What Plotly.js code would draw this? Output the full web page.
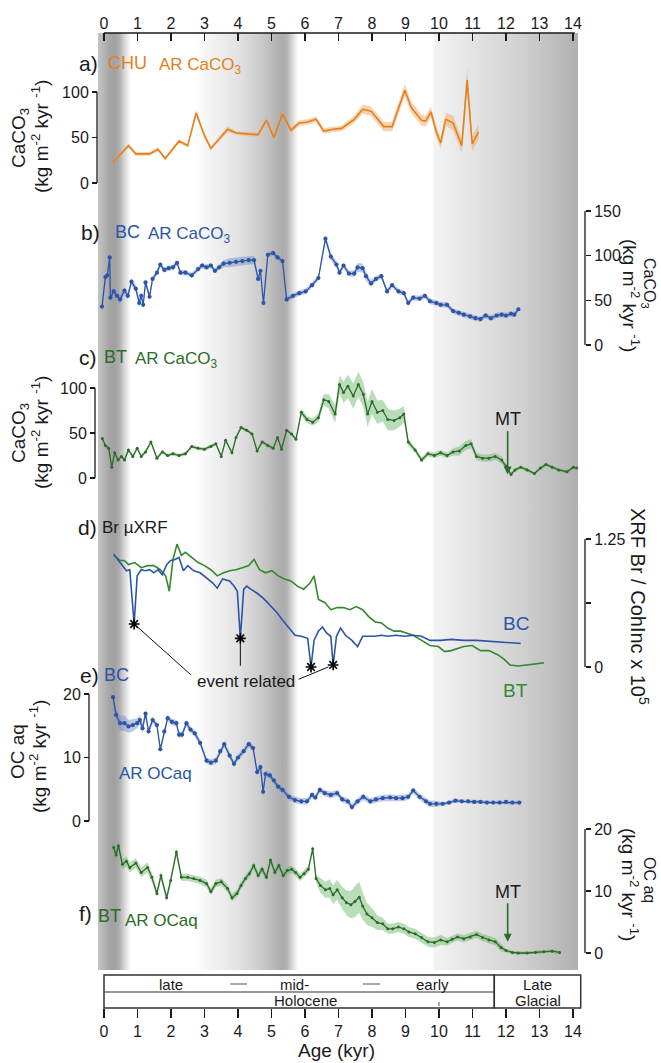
<!DOCTYPE html>
<html><head><meta charset="utf-8">
<script src="https://cdn.plot.ly/plotly-3.0.1.min.js"></script>
<style>html,body{margin:0;padding:0;background:#fff}#chart{width:661px;height:1063px}</style>
</head><body><div id="chart"></div>
<script>
// ---------------- DATA ----------------
const ageTicks = [0,1,2,3,4,5,6,7,8,9,10,11,12,13,14];

// a) CHU AR CaCO3
const chuAge = [0.25,0.55,0.73,0.95,1.36,1.61,1.83,2.24,2.50,2.75,3.00,3.19,3.69,3.95,4.19,4.45,4.60,4.85,5.07,5.33,5.58,5.83,6.08,6.33,6.56,6.84,7.09,7.47,7.72,7.97,8.35,8.60,8.98,9.17,9.48,9.60,9.76,9.92,10.05,10.20,10.42,10.68,10.84,10.99,11.18];
const chuCaCO3 = [22,34,41,32,32,37,27,46,41,77,52,38,59,55,54,53,53,69,50,76,58,66,67,70,57,59,60,70,81,79,62,62,102,83,69,68,78,56,44,70,66,41,113,43,56];
const chuErr = [2,2,2,2,2,2,2,2,2,3,3,2,3,2,2,2,2,3,3,3,3,3,3,3,3,3,3,4,5,5,5,5,7,6,6,6,6,6,6,7,8,8,14,8,8];

// b) BC AR CaCO3
const bcAge = [-0.06,0.04,0.10,0.17,0.19,0.29,0.39,0.48,0.61,0.71,0.82,0.95,1.05,1.11,1.17,1.24,1.36,1.45,1.58,1.68,1.80,1.93,2.06,2.18,2.28,2.43,2.62,2.81,2.93,3.06,3.19,3.31,3.44,3.57,3.75,3.94,4.13,4.32,4.48,4.60,4.67,4.76,4.89,5.05,5.18,5.33,5.45,5.64,5.83,6.02,6.21,6.40,6.61,6.77,6.94,7.03,7.15,7.31,7.47,7.57,7.72,7.82,7.97,8.12,8.28,8.45,8.60,8.79,8.95,9.08,9.23,9.42,9.58,9.73,9.92,10.05,10.24,10.42,10.59,10.74,10.93,11.09,11.24,11.39,11.55,11.72,11.87,12.00,12.15,12.25,12.37];
const bcCaCO3 = [43,76,78,98,53,60,55,51,61,55,71,63,47,55,45,70,54,74,81,90,84,86,87,92,81,81,78,85,89,87,89,83,87,91,92,93,94,95,95,74,83,47,101,103,98,94,51,55,58,60,67,75,119,99,90,81,89,80,80,87,86,77,69,74,77,60,67,60,58,47,53,52,55,49,47,45,45,38,36,34,32,30,29,33,30,33,34,33,35,34,40];
const bcErr = [3,3,3,3,4,4,4,5,4,4,4,4,5,4,5,4,4,3,3,3,3,3,3,3,3,3,3,3,3,3,3,3,3,4,5,5,5,5,5,3,3,3,3,3,3,3,3,3,3,3,3,3,4,4,4,3,3,3,4,5,5,5,4,3,3,3,3,3,3,3,3,3,3,3,3,3,3,3,3,3,3,3,3,3,3,3,3,3,3,3,3];

// c) BT AR CaCO3
const btAge = [-0.05,0.04,0.14,0.23,0.32,0.42,0.52,0.61,0.73,0.86,0.99,1.11,1.24,1.40,1.58,1.74,1.90,2.06,2.24,2.43,2.62,2.81,3.00,3.19,3.34,3.50,3.63,3.82,3.94,4.09,4.26,4.42,4.57,4.72,4.89,5.05,5.18,5.30,5.45,5.60,5.73,5.89,6.06,6.23,6.40,6.56,6.71,6.90,7.03,7.15,7.28,7.44,7.59,7.74,7.87,8.00,8.16,8.32,8.47,8.66,8.83,8.95,9.08,9.29,9.48,9.67,9.86,10.05,10.24,10.42,10.61,10.80,10.96,11.12,11.30,11.49,11.68,11.87,12.00,12.15,12.27,12.44,12.63,12.85,13.03,13.19,13.38,13.57,13.82,14.01,14.11];
const btCaCO3 = [44,36,33,12,28,20,24,20,31,24,33,24,29,40,22,29,25,27,25,27,35,33,32,35,38,24,42,28,45,56,53,49,30,40,36,33,45,32,53,49,43,73,65,62,67,87,85,71,104,95,102,91,104,93,71,85,73,75,65,64,67,71,40,31,20,27,25,28,25,29,30,36,38,24,22,22,24,20,13,4,9,12,9,5,11,15,12,9,7,12,11];
const btErr = [2,2,2,2,2,2,2,2,2,2,2,2,2,2,2,2,2,2,2,2,2,2,2,2,2,2,2,2,2,2,2,2,2,2,2,2,2,2,2,2,2,4,4,4,5,6,8,10,10,12,13,14,14,14,14,14,13,12,12,11,10,9,4,3,3,3,3,3,3,4,5,5,5,4,4,4,4,4,3,2,2,2,2,2,2,2,2,2,2,2,2];

// d) Br uXRF (XRF Br / CohInc x 10^5)
const xrfBcAge = [0.29,0.48,0.67,0.77,0.90,0.99,1.11,1.24,1.36,1.49,1.61,1.74,1.87,1.99,2.12,2.24,2.37,2.50,2.68,2.87,3.06,3.25,3.38,3.54,3.75,3.88,3.98,4.07,4.17,4.26,4.38,4.57,4.76,4.95,5.14,5.33,5.52,5.70,5.89,6.08,6.18,6.27,6.40,6.52,6.65,6.77,6.84,6.94,7.06,7.21,7.40,7.57,7.72,7.91,8.10,8.28,8.47,8.72,8.98,9.23,9.48,9.73,10.05,10.36,10.74,11.12,11.49,12.00,12.44];
const xrfBcBr = [1.10,1.02,0.94,0.95,0.42,0.89,0.95,0.94,0.95,0.92,0.95,0.90,1.00,1.04,1.05,1.07,0.94,0.99,0.94,0.92,0.87,0.82,0.77,0.86,0.84,0.79,0.74,0.28,0.76,0.79,0.76,0.72,0.67,0.61,0.54,0.46,0.38,0.31,0.30,0.28,0.00,0.26,0.35,0.39,0.33,0.30,0.02,0.30,0.38,0.31,0.26,0.20,0.30,0.30,0.30,0.31,0.30,0.31,0.30,0.31,0.30,0.26,0.26,0.27,0.26,0.26,0.25,0.24,0.23];
const xrfBtAge = [0.29,0.48,0.61,0.73,0.92,1.11,1.30,1.49,1.68,1.84,1.95,2.06,2.18,2.31,2.43,2.62,2.81,3.00,3.19,3.38,3.57,3.75,3.94,4.13,4.32,4.48,4.64,4.82,5.01,5.20,5.39,5.58,5.77,5.96,6.15,6.27,6.40,6.59,6.77,6.96,7.15,7.34,7.53,7.72,7.91,8.10,8.28,8.47,8.66,8.85,9.04,9.23,9.48,9.73,9.98,10.17,10.36,10.55,10.74,10.99,11.24,11.49,11.75,11.93,12.12,12.37,12.63,12.88,13.13];
const xrfBtBr = [1.09,1.04,1.04,1.00,1.02,0.97,0.99,0.99,0.95,0.89,0.74,1.05,1.20,1.09,1.12,1.07,1.02,0.99,0.95,0.89,0.92,0.94,0.95,0.97,0.99,1.05,0.95,0.92,0.94,0.89,0.86,0.84,0.79,0.76,0.82,0.89,0.66,0.63,0.56,0.58,0.58,0.56,0.59,0.56,0.49,0.44,0.43,0.38,0.35,0.35,0.33,0.31,0.26,0.21,0.20,0.15,0.16,0.18,0.20,0.21,0.16,0.16,0.12,0.08,0.02,0.01,0.02,0.03,0.04];
const eventAge = [0.90,4.07,6.18,6.84];
const eventBr = [0.42,0.28,0.00,0.02];

// e) BC AR OCaq
const bcOcAge = [0.27,0.36,0.48,0.61,0.73,0.86,0.99,1.07,1.15,1.24,1.33,1.45,1.58,1.68,1.80,1.90,2.03,2.16,2.24,2.33,2.46,2.58,2.71,2.87,3.06,3.19,3.34,3.47,3.59,3.75,3.88,4.00,4.17,4.32,4.45,4.57,4.67,4.75,4.82,4.95,5.07,5.20,5.33,5.52,5.70,5.89,6.06,6.21,6.31,6.44,6.59,6.77,6.96,7.11,7.28,7.40,7.57,7.74,7.95,8.12,8.32,8.54,8.72,8.91,9.08,9.23,9.42,9.61,9.73,9.92,10.11,10.30,10.49,10.68,10.87,11.05,11.24,11.43,11.62,11.81,12.00,12.19,12.40];
const bcOc = [19.5,16.7,15.4,15.4,14.9,15.1,15.4,15.9,14.6,16.9,14.1,15.9,15.1,11.3,14.1,16.2,15.6,15.4,13.6,13.6,15.4,14.4,13.8,12.3,9.5,9.2,9.5,11.0,12.1,10.3,9.0,10.0,11.0,12.1,11.5,7.7,8.5,4.6,7.4,7.2,6.4,5.4,4.9,3.8,3.3,3.1,3.1,4.1,3.7,4.9,4.4,4.1,4.4,3.4,3.1,2.2,3.1,3.8,3.1,3.4,3.6,3.7,3.6,3.6,3.8,4.8,3.8,3.1,2.7,2.7,2.7,2.9,3.2,3.1,3.1,3.0,3.0,2.9,2.9,2.9,3.0,2.9,2.9];
const bcOcErr = [0.5,0.8,1.2,1.2,1.0,1.0,0.8,0.8,0.8,0.6,0.5,0.5,0.5,0.5,0.5,0.5,0.5,0.5,0.5,0.5,0.5,0.5,0.5,0.5,0.5,0.5,0.5,0.5,0.5,0.5,0.5,0.5,0.5,0.5,0.5,0.5,0.6,0.6,0.6,0.5,0.5,0.5,0.5,0.5,0.5,0.5,0.5,0.5,0.5,0.5,0.5,0.5,0.5,0.5,0.5,0.5,0.5,0.5,0.5,0.5,0.5,0.5,0.5,0.5,0.5,0.5,0.5,0.5,0.5,0.5,0.3,0.3,0.3,0.3,0.3,0.3,0.3,0.3,0.3,0.3,0.3,0.3,0.3];

// f) BT AR OCaq
const btOcAge = [0.29,0.36,0.43,0.55,0.67,0.77,0.95,1.11,1.30,1.43,1.58,1.70,1.87,1.99,2.16,2.31,2.50,2.68,2.87,3.06,3.19,3.34,3.50,3.69,3.82,3.97,4.09,4.22,4.34,4.47,4.60,4.72,4.85,4.97,5.10,5.22,5.35,5.47,5.60,5.72,5.85,5.97,6.10,6.23,6.33,6.46,6.61,6.74,6.84,6.96,7.11,7.24,7.37,7.49,7.62,7.72,7.85,8.00,8.16,8.32,8.47,8.62,8.79,8.95,9.10,9.29,9.48,9.67,9.86,10.05,10.24,10.39,10.55,10.74,10.93,11.12,11.30,11.49,11.68,11.85,12.00,12.19,12.37,12.63,12.88,13.13,13.38,13.60];
const btOc = [17.0,15.8,17.3,14.3,14.8,13.8,14.5,13.0,13.8,12.2,9.6,12.5,8.9,11.7,16.3,12.2,12.2,12.0,11.7,11.2,9.9,11.2,11.5,10.4,8.9,9.6,10.9,12.0,12.8,14.1,12.5,13.5,12.2,15.0,13.0,14.1,12.5,13.3,13.5,13.0,12.2,12.8,13.5,16.8,12.0,10.9,10.2,10.4,9.4,10.2,8.9,8.1,7.8,8.3,9.0,7.6,6.3,5.7,4.9,4.7,3.9,3.9,4.2,3.9,3.4,3.1,2.5,1.8,1.7,2.1,1.8,2.2,2.6,2.3,2.6,3.0,2.5,2.1,1.8,0.9,0.4,0.1,0.0,0.0,0.1,0.2,0.3,0.1];
const btOcErr = [0.8,0.8,0.8,0.8,0.8,0.8,0.8,0.8,0.8,0.8,0.6,0.6,0.6,0.6,0.6,0.6,0.6,0.6,0.6,0.6,0.6,0.6,0.6,0.6,0.6,0.6,0.6,0.6,0.6,0.6,0.6,0.6,0.6,0.6,0.6,0.6,0.6,0.6,0.6,0.6,0.6,0.6,0.6,0.6,0.6,1.2,1.3,1.5,1.5,1.6,1.8,2.0,2.2,2.5,2.5,2.2,1.8,1.5,1.2,1.0,0.8,0.8,0.8,0.8,0.8,0.8,0.8,0.8,0.8,0.8,0.6,0.6,0.6,0.6,0.6,0.6,0.6,0.6,0.6,0.6,0.3,0.3,0.3,0.3,0.3,0.3,0.3,0.3];

// Melt-water transition marker age
const mtAge = 12.05;

// Background shading profile (age -> gray level)
const shadeAge  = [-0.18,0.00,0.15,0.30,0.45,0.60,0.80,2.70,3.30,4.00,4.60,5.00,5.30,5.45,5.60,5.80,9.80,9.86,11.00,12.50,14.15];
const shadeGray = [196,180,166,160,172,212,255,255,241,226,206,188,172,176,210,255,255,243,228,208,176];

// Stratigraphic box labels
const periodTop = ['late','mid-','early'];
const periodTopAge = [2.0,5.7,9.8];
const holoceneEnd = 11.65;

// ---------------- LAYOUT GEOMETRY ----------------
const W=661, H=1063, L=88, R=585, T=33, B=1008;
const PW=R-L, PH=B-T;
const X0PX=104, KPX=33.5;
const fx = px => (px-L)/PW;
const fy = py => (B-py)/PH;
const xr = [(L-X0PX)/KPX, (R-X0PX)/KPX];
const agePx = a => X0PX + a*KPX;
function dom(v0,p0,v1,p1,rmin,rmax){
  const s=(p0-p1)/(v1-v0);
  const px=v=>p0-(v-v0)*s;
  return [fy(px(rmin)), fy(px(rmax))];
}
const FONT = 'Liberation Sans, Arial, sans-serif';
const ORANGE='#e5801c', BLUE='#2c55a8', DGREEN='#2e6b2b', LGREEN='#34892f', INK='#1a1a1a';

const P = {
  a:{v0:0,p0:183,v1:100,p1:92, r:[-15,140], ax:97},
  b:{v0:0,p0:345,v1:150,p1:211, r:[-5,160], ax:585},
  c:{v0:0,p0:478,v1:100,p1:388, r:[-5,125], ax:95},
  d:{v0:0,p0:667,v1:1.25,p1:539, r:[-0.15,1.35], ax:585},
  e:{v0:0,p0:821,v1:20,p1:694, r:[-1,22], ax:89},
  f:{v0:0,p0:953,v1:20,p1:829, r:[-1,21], ax:585}
};

function yax(k, side, tickvals, ticktext){
  const p=P[k];
  const o={domain:dom(p.v0,p.p0,p.v1,p.p1,p.r[0],p.r[1]), range:p.r, anchor:'free',
    position: fx(p.ax), side:side, tickvals:tickvals, ticks:'outside', ticklen:5,
    tickwidth:1.2, tickcolor:INK, showgrid:false, zeroline:false, showline:false,
    tickfont:{size:16,color:INK,family:FONT}, fixedrange:true};
  if(ticktext) o.ticktext=ticktext;
  return o;
}

// ---------------- TRACES ----------------
const traces=[];
const s0=shadeAge[0], s1=shadeAge[shadeAge.length-1];
traces.push({x:[s0,s1,s1,s0,s0], y:[fy(970),fy(970),1,1,fy(970)], xaxis:'x', yaxis:'y',
  mode:'lines', line:{width:0}, fill:'toself', hoverinfo:'skip',
  fillgradient:{type:'horizontal', colorscale: shadeAge.map((a,i)=>[(a-s0)/(s1-s0), `rgb(${shadeGray[i]},${shadeGray[i]},${shadeGray[i]})`])}});
traces.push({x:[0], y:[0.5], xaxis:'x2', yaxis:'y', mode:'markers', marker:{opacity:0}, hoverinfo:'skip'});

function band(x,y,e,yaxis,color){
  const up=y.map((v,i)=>v+e[i]), lo=y.map((v,i)=>v-e[i]);
  return {x:x.concat(x.slice().reverse()), y:up.concat(lo.slice().reverse()), xaxis:'x', yaxis:yaxis,
    mode:'lines', line:{width:0}, fill:'toself', fillcolor:color, hoverinfo:'skip'};
}
function line(x,y,yaxis,color,w,ms){
  return {x:x, y:y, xaxis:'x', yaxis:yaxis, mode: ms? 'lines+markers':'lines',
    line:{color:color,width:w}, marker:{size:ms||0,color:color}, hoverinfo:'skip'};
}
traces.push(band(chuAge,chuCaCO3,chuErr,'y2','rgba(240,168,100,0.5)'));
traces.push(line(chuAge,chuCaCO3,'y2',ORANGE,1.6));
traces.push(band(bcAge,bcCaCO3,bcErr,'y3','rgba(110,135,200,0.45)'));
traces.push(line(bcAge,bcCaCO3,'y3',BLUE,1.3,4.2));
traces.push(band(btAge,btCaCO3,btErr,'y4','rgba(100,180,100,0.45)'));
traces.push(line(btAge,btCaCO3,'y4',DGREEN,1.3,3));
traces.push(line(xrfBtAge,xrfBtBr,'y5',LGREEN,1.6));
traces.push(line(xrfBcAge,xrfBcBr,'y5',BLUE,1.6));
traces.push({x:eventAge, y:eventBr, xaxis:'x', yaxis:'y5', mode:'markers',
  marker:{symbol:'asterisk-open', size:9, color:'#000', line:{width:1.6,color:'#000'}}, hoverinfo:'skip', cliponaxis:false});
traces.push(band(bcOcAge,bcOc,bcOcErr,'y6','rgba(110,135,200,0.45)'));
traces.push(line(bcOcAge,bcOc,'y6',BLUE,1.3,4.2));
traces.push(band(btOcAge,btOc,btOcErr,'y7','rgba(100,180,100,0.45)'));
traces.push(line(btOcAge,btOc,'y7',DGREEN,1.3,3));

// ---------------- SHAPES ----------------
const shapes=[];
const axLine=(k,yref,y0,y1)=>({type:'line',xref:'paper',yref:yref,x0:fx(P[k].ax),x1:fx(P[k].ax),y0:y0,y1:y1,line:{color:INK,width:1.3}});
shapes.push(axLine('a','y2',0,100));
shapes.push(axLine('b','y3',0,150));
shapes.push(axLine('c','y4',0,100));
shapes.push(axLine('d','y5',0,1.25));
shapes.push(axLine('e','y6',0,20));
shapes.push(axLine('f','y7',0,20));
shapes.push({type:'line',xref:'x',yref:'paper',x0:0,x1:14.05,y0:1,y1:1,line:{color:INK,width:1.5}});
const bl={color:'#333',width:1.5};
shapes.push({type:'rect',xref:'x',yref:'paper',x0:0,x1:holoceneEnd,y0:fy(1008),y1:fy(975),line:bl});
shapes.push({type:'line',xref:'x',yref:'paper',x0:0,x1:holoceneEnd,y0:fy(992),y1:fy(992),line:{color:'#333',width:1.2}});
shapes.push({type:'rect',xref:'x',yref:'paper',x0:holoceneEnd,x1:14.23,y0:fy(1008),y1:fy(975),line:bl});
shapes.push({type:'line',xref:'x',yref:'paper',x0:3.77,x1:4.27,y0:fy(984),y1:fy(984),line:{color:'#555',width:1}});
shapes.push({type:'line',xref:'x',yref:'paper',x0:7.73,x1:8.24,y0:fy(984),y1:fy(984),line:{color:'#555',width:1}});
shapes.push({type:'line',xref:'x',yref:'paper',x0:10,x1:10,y0:fy(1006),y1:fy(1002),line:{color:'#555',width:1}});

// ---------------- ANNOTATIONS ----------------
const ann=[];
function A(text,xpx,ypx,o){
  ann.push(Object.assign({text:text,xref:'paper',yref:'paper',x:fx(xpx),y:fy(ypx),showarrow:false,
    xanchor:'left',yanchor:'middle',font:{size:16,color:INK,family:FONT}},o||{}));
}
const f=(size,color)=>({size:size,color:color||INK,family:FONT});
A('a)',77,63,{font:f(21)});
A('CHU',106,63,{font:f(18,ORANGE)});
A('AR CaCO<sub>3</sub>',157,66,{font:f(17,ORANGE)});
A('b)',79,232,{font:f(21)});
A('BC',113,232,{font:f(18,BLUE)});
A('AR CaCO<sub>3</sub>',146,235,{font:f(17,BLUE)});
A('c)',77,357,{font:f(21)});
A('BT',102,357,{font:f(18,DGREEN)});
A('AR CaCO<sub>3</sub>',133,360,{font:f(17,DGREEN)});
A('d)',76,527,{font:f(21)});
A('Br µXRF',100,527,{font:f(17)});
A('e)',78,675,{font:f(21)});
A('BC',102,675,{font:f(18,BLUE)});
A('AR OCaq',117,773,{font:f(17,BLUE)});
A('f)',77,913,{font:f(21)});
A('BT',96,916,{font:f(18,DGREEN)});
A('AR OCaq',123,920,{font:f(17,DGREEN)});
A('BC',501,623,{font:f(19,BLUE)});
A('BT',501,690,{font:f(19,LGREEN)});
A('event related',246,681,{xanchor:'center',font:f(17)});
const leaders=[[0,58,52],[1,0,29],[3,-36,15]];
leaders.forEach(([i,dx,dy])=>{
  ann.push({text:'',xref:'x',yref:'y5',x:eventAge[i],y:eventBr[i],showarrow:true,arrowhead:0,
    arrowwidth:1,arrowcolor:'#111',ax:dx,ay:dy,standoff:5});
});
ann.push({text:'MT',xref:'x',yref:'y4',x:mtAge,y:btCaCO3[btAge.indexOf(12.15)],showarrow:true,arrowhead:2,arrowsize:1,
  arrowwidth:1.6,arrowcolor:DGREEN,ax:0,ay:-55,font:f(18)});
ann.push({text:'MT',xref:'x',yref:'y7',x:mtAge,y:1.8,showarrow:true,arrowhead:2,arrowsize:1,
  arrowwidth:1.6,arrowcolor:DGREEN,ax:0,ay:-50,font:f(18)});
const unit='(kg m<sup>-2</sup> kyr <sup>-1</sup>)';
const TL={textangle:-90,xanchor:'center',font:f(19)};
const TR={textangle:90,xanchor:'center',font:f(19)};
A('CaCO<sub>3</sub>',20,138,TL); A(unit,40,137,TL);
A('CaCO<sub>3</sub>',20,433,TL); A(unit,40,433,TL);
A('OC aq',17,752,TL); A(unit,38,757,TL);
A('CaCO<sub>3</sub>',649,283,{textangle:90,xanchor:'center',font:f(16)}); A(unit,631,295,TR);
A('OC aq',650,880,{textangle:90,xanchor:'center',font:f(16)}); A(unit,630,884,TR);
A('XRF Br / CohInc x 10<sup>5</sup>',640,606,{textangle:90,xanchor:'center',font:f(20)});
periodTop.forEach((t,i)=>A(t,agePx(periodTopAge[i]),984,{xanchor:'center',font:f(15)}));
A('Holocene',agePx(6.0),1000,{xanchor:'center',font:f(15)});
A('Late',agePx(12.95),984,{xanchor:'center',font:f(15)});
A('Glacial',agePx(12.95),1000,{xanchor:'center',font:f(15)});

// ---------------- LAYOUT ----------------
const layout={
  width:W,height:H,margin:{l:L,r:W-R,t:T,b:H-B,pad:0},
  paper_bgcolor:'#fff',plot_bgcolor:'rgba(0,0,0,0)',showlegend:false,
  font:{family:FONT,size:15,color:INK},
  xaxis:{range:xr,tickvals:ageTicks,ticks:'outside',ticklen:9,tickwidth:1.2,tickcolor:INK,
    showgrid:false,zeroline:false,showline:false,anchor:'y',tickfont:{size:16,color:INK},
    title:{text:'Age (kyr)',font:{size:19,color:INK},standoff:3},fixedrange:true},
  xaxis2:{range:xr,overlaying:'x',side:'top',anchor:'y',tickvals:ageTicks,ticks:'inside',ticklen:8,
    tickwidth:1.2,tickcolor:INK,showgrid:false,zeroline:false,showline:false,tickfont:{size:16,color:INK},fixedrange:true},
  yaxis:{domain:[0,1],range:[0,1],visible:false,fixedrange:true},
  yaxis2:yax('a','left',[0,50,100]),
  yaxis3:yax('b','right',[0,50,100,150]),
  yaxis4:yax('c','left',[0,50,100]),
  yaxis5:yax('d','right',[0,0.625,1.25],['0','','1.25']),
  yaxis6:yax('e','left',[0,10,20]),
  yaxis7:yax('f','right',[0,10,20]),
  shapes:shapes, annotations:ann
};
Plotly.newPlot('chart',traces,layout,{staticPlot:true,displayModeBar:false});
</script></body></html>
